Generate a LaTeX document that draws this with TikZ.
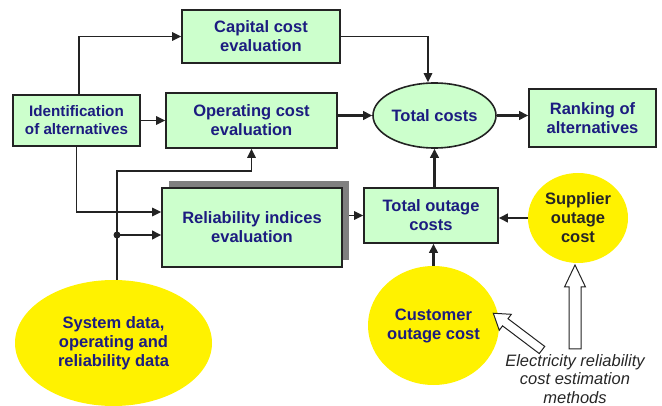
\documentclass[tikz,border=0pt]{standalone}
\usepackage{fontspec}
\setmainfont{Liberation Sans}
\usetikzlibrary{arrows.meta,shapes.geometric,shadows}

\definecolor{boxgreen}{HTML}{CCFFCC}
\definecolor{txtblue}{RGB}{28,28,128}
\definecolor{rim}{RGB}{35,35,35}

\begin{document}
\begin{tikzpicture}[x=1pt, y=-1pt, font=\fontsize{16.5}{19}\selectfont\bfseries,
  main/.style = {draw=rim, line width=1.6pt, fill=boxgreen, text=txtblue, align=center, inner sep=0pt},
  blob/.style = {ellipse, fill=yellow, text=txtblue, align=center, inner sep=0pt},
  link/.style = {draw=rim, line width=1.5pt, -{Triangle[length=9pt,width=8.5pt]}},
  heavy/.style = {link, line width=2.3pt},
  hollow/.style = {draw=rim, line width=1pt, fill=white, line join=miter}]
\useasboundingbox (0,0) rectangle (662,406);

\node[main, minimum width=127, minimum height=51, font=\fontsize{15.2}{18}\selectfont\bfseries] (1) at (76.5,120.5) {Identification\\of alternatives};
\node[main, minimum width=158, minimum height=53] (2) at (261,36.5) {Capital cost\\evaluation};
\node[main, minimum width=171, minimum height=55] (3) at (251.5,120.5) {Operating cost\\evaluation};
\node[main, minimum width=180, minimum height=79,
  drop shadow={shadow xshift=6.5pt, shadow yshift=7pt, fill=gray, opacity=1}] (4) at (252,227.5) {Reliability indices\\evaluation};
\node[main, ellipse, minimum width=123, minimum height=65] (5) at (434.5,115.5) {Total costs};
\node[main, minimum width=127, minimum height=58] (6) at (592.5,118) {Ranking of\\alternatives};
\node[main, minimum width=134, minimum height=55] (7) at (431,215.5) {Total outage\\costs};
\node[blob, minimum width=100, minimum height=90, text=black!85] (8) at (578,218) {Supplier\\outage\\cost};
\node[blob, minimum width=127, minimum height=119] (9) at (433.5,325.5) {Customer\\outage cost};
\node[blob, minimum width=197, minimum height=126] (10) at (113.5,343) {System data,\\operating and\\reliability data};
\node[font=\fontsize{16.5}{18.5}\selectfont\itshape, text=black!85, align=center] (11) at (575,379) {Electricity reliability\\cost estimation\\methods};

% alternatives feed the three evaluations
\draw[link] ([xshift=2.5]1.north) |- (2.west);
\draw[link] (1) -- (3);
\draw[link] (1.south) |- ([yshift=15.5]4.west);

% input data
\coordinate (j) at (117,235);
\coordinate (k) at (251.5,171);
\draw[draw=rim, line width=1.5pt] (10.north -| j) -- (j);
\draw[link] (j) |- (k) -- (3.south);
\draw[heavy] (j) -- (4.west |- j);
\fill[rim] (j) circle (3.5);

% costs
\draw[link] (2.east) -| ([xshift=-6.5]5.north);
\draw[heavy] (3.east |- 5) -- (5);
\draw[heavy] (5.east) -- (5.east -| 6.west);
\draw[link] ([xshift=6.5]4.east |- 7.west) -- (7.west);
\draw[heavy] (7.north -| 5) -- (5.south);
\draw[heavy] (8) -- (8 -| 7.east);
\draw[heavy] (9) -- (9 |- 7.south);

% estimation methods
\coordinate (e1) at (575,349);
\coordinate (e2) at (542,350);
\draw[hollow] (e1) +(-6,0) -- +(-6,-62) -- +(-10.5,-62) -- +(0,-84) -- +(10.5,-62) -- +(6,-62) -- +(6,0) -- cycle;
\begin{scope}[shift={(e2)}, rotate=142.95]
\draw[hollow] (0,-4.5) -- (46,-4.5) -- (46,-10) -- (61,0) -- (46,10) -- (46,4.5) -- (0,4.5) -- cycle;
\end{scope}

\end{tikzpicture}
\end{document}
